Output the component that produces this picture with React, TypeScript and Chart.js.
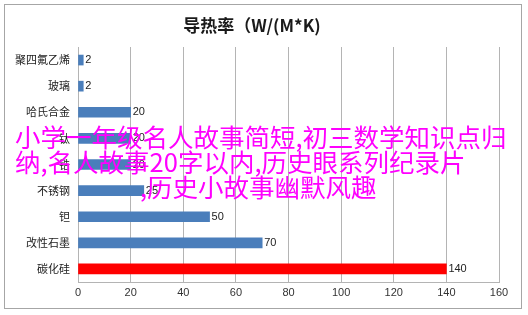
import React, { useEffect, useRef } from "react";
import { Chart, registerables } from "chart.js";

Chart.register(...registerables);

const TITLE = "导热率（W/(M*K)";
const categories = ["聚四氟乙烯", "玻璃", "哈氏合金", "钛", "锆", "不锈钢", "钽", "改性石墨", "碳化硅"];
const values = [2, 2, 20, 20, 20, 25, 50, 70, 140];
const barColors = ["#4a7ebb", "#4a7ebb", "#4a7ebb", "#4a7ebb", "#4a7ebb", "#4a7ebb", "#4a7ebb", "#4a7ebb", "#ff0000"];
const xMin = 0;
const xMax = 160;
const xStep = 20;
const overlayLines = [
  "小学一年级名人故事简短,初三数学知识点归",
  "纳,名人故事20字以内,历史眼系列纪录片",
  ",历史小故事幽默风趣",
];

const framePlugin = {
  id: "frame",
  beforeDraw(chart: any) {
    const ctx = chart.ctx;
    ctx.save();
    ctx.fillStyle = "#ffffff";
    ctx.fillRect(0, 0, chart.width, chart.height);
    ctx.strokeStyle = "#a6a6a6";
    ctx.lineWidth = 1;
    ctx.strokeRect(4.5, 4.5, 517, 304);
    ctx.restore();
  },
};

const valueLabelPlugin = {
  id: "valueLabels",
  afterDatasetsDraw(chart: any) {
    const ctx = chart.ctx;
    const meta = chart.getDatasetMeta(0);
    ctx.save();
    ctx.font = "11px 'Liberation Sans', Arial, sans-serif";
    ctx.fillStyle = "#222";
    ctx.textBaseline = "middle";
    ctx.textAlign = "left";
    meta.data.forEach((bar: any, i: number) => {
      ctx.fillText(String(values[i]), bar.x + 2, bar.y);
    });
    ctx.restore();
  },
};

export default function App() {
  const canvasRef = useRef<HTMLCanvasElement | null>(null);

  useEffect(() => {
    if (!canvasRef.current) return;
    const chart = new Chart(canvasRef.current, {
      type: "bar",
      data: {
        labels: categories,
        datasets: [
          {
            data: values,
            backgroundColor: barColors,
            borderWidth: 0,
            barThickness: 10,
          },
        ],
      },
      options: {
        indexAxis: "y",
        animation: false,
        responsive: false,
        maintainAspectRatio: false,
        layout: { padding: { left: 5, right: 29, top: 5, bottom: 0 } },
        plugins: {
          legend: { display: false },
          tooltip: { enabled: false },
          title: {
            display: true,
            text: TITLE,
            color: "#1a1a1a",
            font: { size: 17, weight: "bold", family: "'Noto Sans CJK SC', 'DejaVu Serif', serif", lineHeight: 1.2 },
            padding: { top: 10, bottom: 11.6 },
          },
        },
        scales: {
          x: {
            type: "linear",
            min: xMin,
            max: xMax,
            ticks: {
              stepSize: xStep,
              padding: 4,
              color: "#333",
              font: { size: 11, family: "'Liberation Sans', Arial, sans-serif" },
            },
            grid: { color: "#b4b4b4", lineWidth: 1, drawTicks: false },
            border: { color: "#b4b4b4" },
            afterFit: (scale: any) => {
              scale.height = 33;
            },
          },
          y: {
            type: "category",
            ticks: {
              padding: 8,
              color: "#222",
              font: { size: 11, family: "'Noto Sans CJK SC', sans-serif" },
            },
            grid: { display: false, drawTicks: false },
            border: { color: "#b4b4b4" },
            afterFit: (scale: any) => {
              scale.width = 73;
            },
          },
        },
      },
      plugins: [framePlugin, valueLabelPlugin],
    });
    return () => chart.destroy();
  }, []);

  const lineTops = [123, 148, 173];
  const lineLefts = [15, 15, 140];

  return (
    <div style={{ position: "fixed", left: 0, top: 0, width: 528, height: 315, background: "#fff" }}>
      <canvas ref={canvasRef} width={528} height={315} style={{ display: "block", width: 528, height: 315 }} />
      {overlayLines.map((t, i) => (
        <div
          key={i}
          style={{
            position: "absolute",
            left: lineLefts[i],
            top: lineTops[i],
            fontFamily: "'Noto Sans CJK SC', sans-serif",
            fontSize: 25.5,
            lineHeight: "26px",
            color: "#ff00ff",
            whiteSpace: "nowrap",
            pointerEvents: "none",
          }}
        >
          {t}
        </div>
      ))}
    </div>
  );
}
